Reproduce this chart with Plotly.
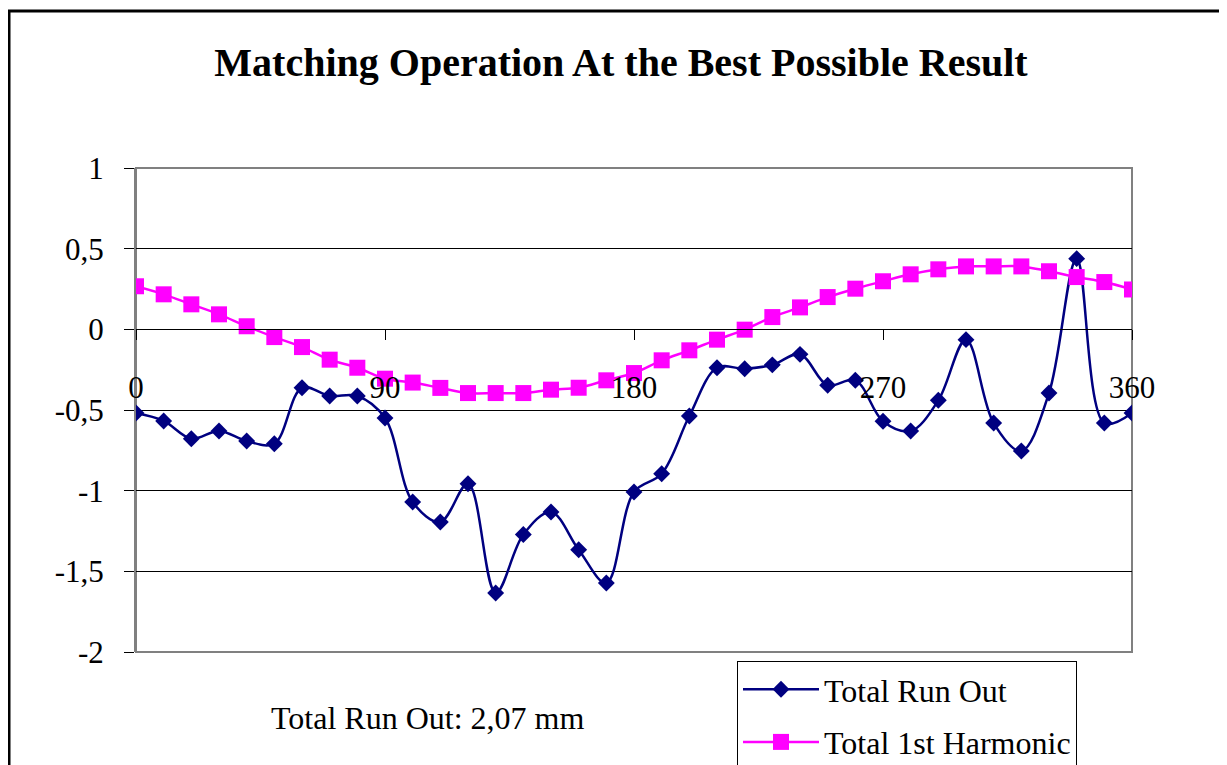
import plotly.graph_objects as go

angles = [0, 10, 20, 30, 40, 50, 60, 70, 80, 90, 100, 110, 120, 130, 140, 150, 160, 170, 180,
          190, 200, 210, 220, 230, 240, 250, 260, 270, 280, 290, 300, 310, 320, 330, 340, 350, 360]

total_run_out = [-0.519, -0.568, -0.678, -0.630, -0.692, -0.709, -0.362, -0.413, -0.413, -0.550,
                 -1.070, -1.194, -0.957, -1.634, -1.272, -1.132, -1.366, -1.572, -1.008,
                 -0.895, -0.537, -0.238, -0.244, -0.220, -0.155, -0.347, -0.316, -0.570, -0.630,
                 -0.440, -0.064, -0.581, -0.754, -0.395, 0.438, -0.581, -0.519]

first_harmonic = [0.267, 0.217, 0.155, 0.093, 0.019, -0.048, -0.110, -0.188, -0.238, -0.306,
                  -0.330, -0.363, -0.395, -0.395, -0.395, -0.374, -0.362, -0.316, -0.271,
                  -0.192, -0.130, -0.064, -0.002, 0.076, 0.136, 0.200, 0.252, 0.298, 0.341,
                  0.372, 0.390, 0.390, 0.390, 0.360, 0.324, 0.293, 0.247]

x_tickvals = [0, 90, 180, 270, 360]
x_ticktext = ["0", "90", "180", "270", "360"]
y_tickvals = [1, 0.5, 0, -0.5, -1, -1.5, -2]
y_ticktext = ["1", "0,5", "0", "-0,5", "-1", "-1,5", "-2"]

title_text = "Matching Operation At the Best Possible Result"
note_text = "Total Run Out: 2,07 mm"

FONT = "Liberation Serif, Times New Roman, serif"

fig = go.Figure()
fig.add_trace(go.Scatter(
    x=angles, y=total_run_out, name="Total Run Out", mode="lines+markers",
    line=dict(color="#000080", width=2.5, shape="spline", smoothing=1),
    marker=dict(symbol="diamond", size=13, color="#000080"),
    legendgroup="a",
))
fig.add_trace(go.Scatter(
    x=angles, y=first_harmonic, name="Total 1st Harmonic", mode="lines+markers",
    line=dict(color="#FF00FF", width=2.5, shape="spline", smoothing=1),
    marker=dict(symbol="square", size=16, color="#FF00FF"),
    legendgroup="b",
))

# page body has an 8px margin; compensate so the plot lands where the reference has it
OFF = 8
W, H = 1227, 765
L, T = 136 - OFF, 168 - OFF
pw, ph = 996, 484
R, B = W - L - pw, H - T - ph


def px_x(x):
    return (x - OFF - L) / pw


def px_y(y):
    return (T + ph - (y - OFF)) / ph


fig.update_layout(
    width=W, height=H,
    margin=dict(l=L, r=R, t=T, b=B, autoexpand=False),
    paper_bgcolor="white", plot_bgcolor="white",
    font=dict(family=FONT, size=31, color="black"),
    title=dict(text="<b>" + title_text + "</b>", x=px_x(621), xref="paper", xanchor="center",
               y=1 - (62 - OFF) / H, yanchor="middle", font=dict(size=40, family=FONT, color="black")),
    showlegend=True,
    legend=dict(x=px_x(737), y=px_y(661), xanchor="left", yanchor="top",
                bgcolor="white", bordercolor="black", borderwidth=1,
                font=dict(size=32, family=FONT), tracegroupgap=8, itemwidth=76,
                traceorder="grouped"),
    xaxis=dict(range=[0, 360], anchor="free", position=2 / 3,
               tickvals=x_tickvals, ticktext=x_ticktext,
               showgrid=False, zeroline=False, showline=True, linecolor="black", linewidth=1,
               ticks="outside", ticklen=10, tickcolor="black", ticklabelstandoff=20,
               tickfont=dict(size=31, family=FONT)),
    yaxis=dict(range=[-2, 1], tickvals=y_tickvals, ticktext=y_ticktext,
               showgrid=True, gridcolor="black", gridwidth=1, zeroline=False,
               showline=True, linecolor="#808080", linewidth=2,
               ticks="outside", ticklen=10, tickcolor="black", ticklabelstandoff=14,
               tickfont=dict(size=31, family=FONT)),
)

# plot-area border (gray) and outer chart border (black)
fig.add_shape(type="rect", xref="paper", yref="paper", x0=0, x1=1, y0=0, y1=1,
              line=dict(color="#808080", width=2), layer="below")
fig.add_shape(type="rect", xref="paper", yref="paper",
              x0=px_x(9), x1=px_x(W + 30),
              y0=px_y(H + 30), y1=px_y(11),
              line=dict(color="black", width=3), layer="above")

fig.add_annotation(text=note_text, xref="paper", yref="paper",
                   x=px_x(427), y=px_y(718), showarrow=False,
                   xanchor="center", yanchor="middle", font=dict(size=32, family=FONT))

fig.write_html("out.html")
